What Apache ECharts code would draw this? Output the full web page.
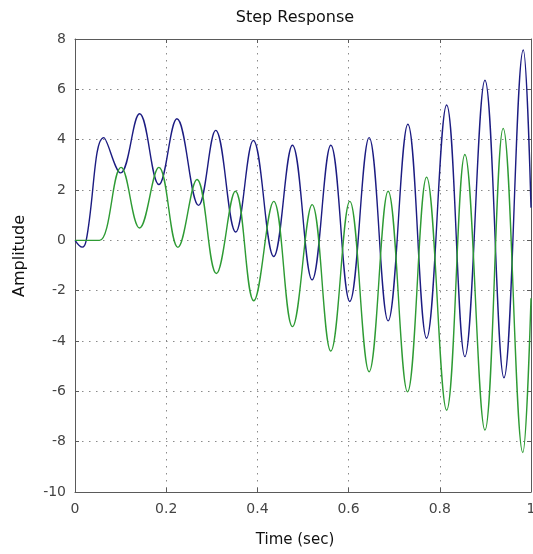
<!DOCTYPE html>
<html>
<head>
<meta charset="utf-8">
<script src="https://cdn.jsdelivr.net/npm/echarts@6/dist/echarts.min.js"></script>
<style>
  html, body { margin: 0; padding: 0; background: #ffffff; overflow: hidden; }
  #chart { position: absolute; left: 0; top: 0; width: 533px; height: 554px; }
</style>
</head>
<body>
<div id="chart"></div>
<script>
// ---- data ----
const titleText = 'Step Response';
const xAxisName = 'Time (sec)';
const yAxisName = 'Amplitude';

const xTicks = [0, 0.2, 0.4, 0.6, 0.8, 1];
const yTicks = [-10, -8, -6, -4, -2, 0, 2, 4, 6, 8];

// blue response: times (sec) and amplitudes at peaks / troughs
const blueT = [0, 0.0158, 0.0246, 0.0632, 0.0999, 0.1416, 0.184, 0.2235, 0.271, 0.3085, 0.3524,
  0.391, 0.4358, 0.4768, 0.520, 0.561, 0.6026, 0.645, 0.6867, 0.730, 0.771, 0.815, 0.855,
  0.899, 0.9407, 0.983, 1.0];
const blueY = [0, -0.27, 0, 4.08, 2.68, 5.03, 2.22, 4.83, 1.39, 4.37, 0.33,
  3.97, -0.64, 3.78, -1.57, 3.78, -2.43, 4.08, -3.20, 4.61, -3.89, 5.38, -4.62,
  6.36, -5.46, 7.56, 1.3];

// green response
const greenT = [0, 0.03, 0.0538, 0.101, 0.1416, 0.184, 0.2257, 0.2675, 0.310, 0.3517, 0.392,
  0.4358, 0.4768, 0.520, 0.561, 0.6026, 0.645, 0.6867, 0.7293, 0.771, 0.815, 0.855,
  0.899, 0.939, 0.982, 1.0];
const greenY = [0, 0, 0, 2.9, 0.49, 2.9, -0.28, 2.42, -1.32, 1.95, -2.40,
  1.55, -3.43, 1.42, -4.40, 1.55, -5.22, 1.95, -6.02, 2.51, -6.75, 3.41,
  -7.54, 4.45, -8.43, -2.3];

const blueColor = '#1c1c82';
const greenColor = '#2e9b34';

// ---- chart ----
const chart = echarts.init(document.getElementById('chart'), null, { renderer: 'canvas', width: 533, height: 554 });

const pairs = (t, y) => t.map((v, i) => [v, y[i]]);

const gridDots = { show: true, lineStyle: { color: '#8a8a8a', width: 1, type: [1.5, 5.5] } };
const axisLineStyle = { show: true, onZero: false, lineStyle: { color: '#5a5a5a', width: 1 } };
const tickStyle = { show: true, inside: true, length: 4, lineStyle: { color: '#5a5a5a', width: 1 } };
const labelFont = { color: '#444', fontSize: 14, fontFamily: 'DejaVu Sans' };

const option = {
  backgroundColor: '#ffffff',
  animation: false,
  grid: { left: 75, top: 39, right: 2, bottom: 62, containLabel: false, outerBoundsMode: 'none' },
  graphic: [
    { type: 'text', x: 295, y: 18, style: { text: titleText, x: 0, y: 0, textAlign: 'center', textVerticalAlign: 'middle', font: '16px "DejaVu Sans"', fill: '#111' } },
    { type: 'text', x: 295, y: 540, style: { text: xAxisName, x: 0, y: 0, textAlign: 'center', textVerticalAlign: 'middle', font: '15px "DejaVu Sans"', fill: '#111' } },
    { type: 'text', rotation: Math.PI / 2, x: 20, y: 256, style: { text: yAxisName, x: 0, y: 0, textAlign: 'center', textVerticalAlign: 'middle', font: '16px "DejaVu Sans"', fill: '#111' } }
  ],
  xAxis: [
    {
      type: 'value', min: xTicks[0], max: xTicks[xTicks.length - 1], interval: 0.2,
      position: 'bottom',
      axisLine: axisLineStyle, axisTick: tickStyle, splitLine: gridDots,
      axisLabel: Object.assign({ margin: 10, showMaxLabel: true, showMinLabel: true }, labelFont)
    },
    {
      type: 'value', min: xTicks[0], max: xTicks[xTicks.length - 1], interval: 0.2,
      position: 'top',
      axisLine: axisLineStyle, axisTick: tickStyle, splitLine: { show: false },
      axisLabel: { show: false }
    }
  ],
  yAxis: [
    {
      type: 'value', min: yTicks[0], max: yTicks[yTicks.length - 1], interval: 2,
      position: 'left',
      axisLine: axisLineStyle, axisTick: tickStyle, splitLine: gridDots,
      axisLabel: Object.assign({ margin: 9 }, labelFont)
    },
    {
      type: 'value', min: yTicks[0], max: yTicks[yTicks.length - 1], interval: 2,
      position: 'right',
      axisLine: axisLineStyle, axisTick: tickStyle, splitLine: { show: false },
      axisLabel: { show: false }
    }
  ],
  series: [
    {
      name: 'blue', type: 'line', xAxisIndex: 0, yAxisIndex: 0,
      data: pairs(blueT, blueY), smooth: 0.4, showSymbol: false, symbol: 'none',
      lineStyle: { color: blueColor, width: 1.4 }, clip: true
    },
    {
      name: 'green', type: 'line', xAxisIndex: 0, yAxisIndex: 0,
      data: pairs(greenT, greenY), smooth: 0.4, showSymbol: false, symbol: 'none',
      lineStyle: { color: greenColor, width: 1.4 }, clip: true
    }
  ]
};

chart.setOption(option);
</script>
</body>
</html>
